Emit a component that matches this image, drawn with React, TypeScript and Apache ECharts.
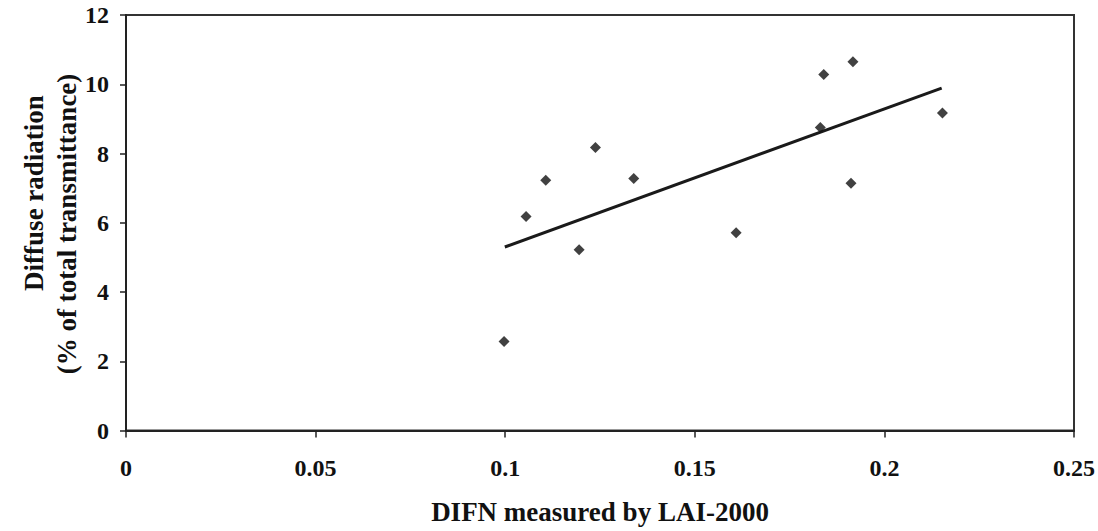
import React, { useEffect, useRef } from "react";
import * as echarts from "echarts";

const difn: number[] = [0.0997, 0.1055, 0.1107, 0.1195, 0.1238, 0.1339, 0.1609, 0.1831, 0.184, 0.1912, 0.1917, 0.2153];
const diffuse: number[] = [2.57, 6.18, 7.23, 5.22, 8.17, 7.28, 5.71, 8.75, 10.28, 7.14, 10.65, 9.17];
const trendX: number[] = [0.0999, 0.2151];
const trendY: number[] = [5.3, 9.89];

const xTitle = "DIFN measured by LAI-2000";
const yTitle1 = "Diffuse radiation";
const yTitle2 = "(% of total transmittance)";

const FONT = '"Liberation Serif", "Times New Roman", serif';

export default function App() {
  const ref = useRef<HTMLDivElement>(null);
  useEffect(() => {
    if (!ref.current) return;
    const chart = echarts.init(ref.current, undefined, { renderer: "svg" });
    const textStyle = { fontFamily: FONT, fontWeight: "bold" as const, color: "#111" };
    chart.setOption({
      animation: false,
      backgroundColor: "#fff",
      grid: { left: 126, right: 24, top: 15, bottom: 100.5, show: true, borderColor: "#333", borderWidth: 2, backgroundColor: "transparent" },
      xAxis: {
        type: "value",
        min: 0,
        max: 0.25,
        interval: 0.05,
        name: xTitle,
        nameLocation: "middle",
        nameGap: 68,
        nameTextStyle: { ...textStyle, fontSize: 27 },
        axisLine: { show: true, onZero: false, lineStyle: { color: "#222", width: 2 } },
        axisTick: { show: true, length: 7, lineStyle: { color: "#222", width: 1.5 } },
        axisLabel: { ...textStyle, fontSize: 24, margin: 25 },
        splitLine: { show: false },
      },
      yAxis: {
        type: "value",
        min: 0,
        max: 12,
        interval: 2,
        axisLine: { show: true, onZero: false, lineStyle: { color: "#222", width: 2 } },
        axisTick: { show: true, length: 6, lineStyle: { color: "#222", width: 1.5 } },
        axisLabel: { ...textStyle, fontSize: 24, margin: 17 },
        splitLine: { show: false },
      },
      graphic: [
        {
          type: "text",
          x: 34,
          y: 193,
          rotation: Math.PI / 2,
          style: { text: yTitle1, fontFamily: FONT, fontWeight: "bold", fontSize: 27, fill: "#111", textAlign: "center", textVerticalAlign: "middle" },
        },
        {
          type: "text",
          x: 67,
          y: 224,
          rotation: Math.PI / 2,
          style: { text: yTitle2, fontFamily: FONT, fontWeight: "bold", fontSize: 27, fill: "#111", textAlign: "center", textVerticalAlign: "middle" },
        },
      ],
      series: [
        {
          type: "scatter",
          symbol: "diamond",
          symbolSize: 11,
          itemStyle: { color: "#111" },
          data: difn.map((x, i) => [x, diffuse[i]]),
          z: 3,
        },
        {
          type: "line",
          showSymbol: false,
          symbol: "none",
          lineStyle: { color: "#1a1a1a", width: 3 },
          data: trendX.map((x, i) => [x, trendY[i]]),
          z: 2,
        },
      ],
    });
    return () => chart.dispose();
  }, []);
  return <div ref={ref} style={{ position: "fixed", left: 0, top: 0, width: 1098, height: 531 }} />;
}
